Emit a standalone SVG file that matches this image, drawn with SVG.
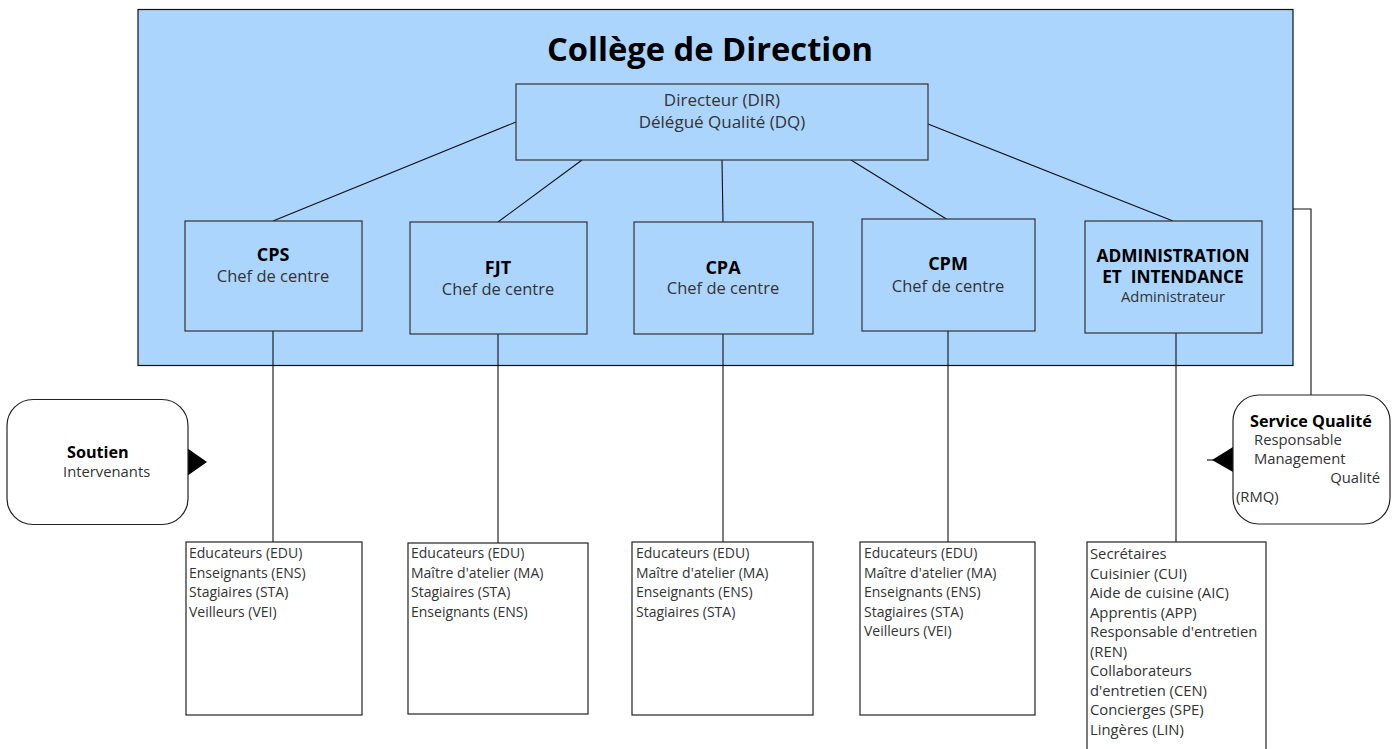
<svg xmlns="http://www.w3.org/2000/svg" width="1395" height="749" viewBox="0 0 1395 749">
<style>
.reg{font-family:"Open Sans","Noto Sans",sans-serif;font-size:14px;fill:#333}
.r16{font-size:16.5px}
.r17{font-size:17px}
.r15{font-size:14.8px}
.b{font-family:"Open Sans","Noto Sans",sans-serif;font-weight:bold;font-size:18px;fill:#000}
.b17{font-size:17.3px}
.b16{font-size:16.2px}
.box{fill:#acd5fd;stroke:#333;stroke-width:1.2}
.wbox{fill:#fff;stroke:#222;stroke-width:1.2}
.ln{stroke:#111;stroke-width:1.1;fill:none}
</style>
<rect width="1395" height="749" fill="#fff"/>
<g id="college">
<rect x="138" y="9.5" width="1155" height="356" fill="#acd5fd" stroke="#111" stroke-width="1.2"/>
<text x="710" y="61" text-anchor="middle" font-family="Open Sans, Noto Sans, sans-serif" font-weight="bold" font-size="32.7" fill="#000">Collège de Direction</text>
</g>
<g id="connectors">
<line class="ln" x1="516" y1="122" x2="273" y2="221"/>
<line class="ln" x1="582" y1="160" x2="498" y2="222"/>
<line class="ln" x1="722" y1="160" x2="723" y2="222"/>
<line class="ln" x1="851" y1="160" x2="948" y2="220"/>
<line class="ln" x1="928" y1="124" x2="1173" y2="221"/>
<line class="ln" x1="273" y1="331" x2="273" y2="542"/>
<line class="ln" x1="498" y1="334" x2="498" y2="543"/>
<line class="ln" x1="723" y1="334" x2="723" y2="542"/>
<line class="ln" x1="948" y1="331" x2="948" y2="542"/>
<line class="ln" x1="1176" y1="333" x2="1176" y2="542"/>
<polyline class="ln" points="1293,209 1311,209 1311,395"/>
<polygon points="187,448 207,462 187,476" fill="#000"/>
<polygon points="1233,447 1212,460 1233,472" fill="#000"/>
<line class="ln" x1="1207" y1="460" x2="1214" y2="460"/>
</g>
<g id="dir">
<rect class="box" x="516" y="84" width="412" height="76"/>
<text class="reg r17" x="722" y="106" text-anchor="middle">Directeur (DIR)</text>
<text class="reg r17" x="722" y="127.5" text-anchor="middle">Délégué Qualité (DQ)</text>
</g>
<g id="cps">
<rect class="box" x="185" y="221" width="177" height="110"/>
<text class="b" x="273" y="260.5" text-anchor="middle">CPS</text>
<text class="reg r16" x="273" y="282" text-anchor="middle">Chef de centre</text>
</g>
<g id="fjt">
<rect class="box" x="410" y="222" width="177" height="112"/>
<text class="b" x="498" y="273.5" text-anchor="middle">FJT</text>
<text class="reg r16" x="498" y="295" text-anchor="middle">Chef de centre</text>
</g>
<g id="cpa">
<rect class="box" x="634" y="222" width="179" height="112"/>
<text class="b" x="723" y="273.5" text-anchor="middle">CPA</text>
<text class="reg r16" x="723" y="294" text-anchor="middle">Chef de centre</text>
</g>
<g id="cpm">
<rect class="box" x="862" y="219" width="173" height="112"/>
<text class="b" x="948" y="269.5" text-anchor="middle">CPM</text>
<text class="reg r16" x="948" y="292" text-anchor="middle">Chef de centre</text>
</g>
<g id="admin">
<rect class="box" x="1085" y="221" width="177" height="112"/>
<text class="b b17" x="1173" y="261.5" text-anchor="middle">ADMINISTRATION</text>
<text class="b b17" x="1173" y="283" text-anchor="middle" xml:space="preserve">ET  INTENDANCE</text>
<text class="reg r15" x="1173" y="301.5" text-anchor="middle">Administrateur</text>
</g>
<g id="soutien">
<rect class="wbox" x="7" y="399.5" width="181" height="125" rx="26"/>
<text class="b b16" x="67" y="457.5">Soutien</text>
<text class="reg r15" x="63" y="477">Intervenants</text>
</g>
<g id="qualite">
<rect class="wbox" x="1233" y="395" width="157" height="129" rx="26"/>
<text class="b b16" x="1250" y="426.5">Service Qualité</text>
<text class="reg r15" x="1254" y="445">Responsable</text>
<text class="reg r15" x="1254" y="464">Management</text>
<text class="reg r15" x="1380" y="483" text-anchor="end">Qualité</text>
<text class="reg r15" x="1236" y="502">(RMQ)</text>
</g>
<g id="cps-staff">
<rect class="wbox" x="186" y="542" width="176" height="173"/>
<text class="reg" x="189" y="558">Educateurs (EDU)</text>
<text class="reg" x="189" y="577.5">Enseignants (ENS)</text>
<text class="reg" x="189" y="597">Stagiaires (STA)</text>
<text class="reg" x="189" y="616.5">Veilleurs (VEI)</text>
</g>
<g id="fjt-staff">
<rect class="wbox" x="408" y="543" width="180" height="171"/>
<text class="reg" x="411" y="558">Educateurs (EDU)</text>
<text class="reg" x="411" y="577.5">Maître d'atelier (MA)</text>
<text class="reg" x="411" y="597">Stagiaires (STA)</text>
<text class="reg" x="411" y="616.5">Enseignants (ENS)</text>
</g>
<g id="cpa-staff">
<rect class="wbox" x="632" y="542" width="181" height="173"/>
<text class="reg" x="636" y="558">Educateurs (EDU)</text>
<text class="reg" x="636" y="577.5">Maître d'atelier (MA)</text>
<text class="reg" x="636" y="597">Enseignants (ENS)</text>
<text class="reg" x="636" y="616.5">Stagiaires (STA)</text>
</g>
<g id="cpm-staff">
<rect class="wbox" x="860" y="542" width="175" height="173"/>
<text class="reg" x="864" y="558">Educateurs (EDU)</text>
<text class="reg" x="864" y="577.5">Maître d'atelier (MA)</text>
<text class="reg" x="864" y="597">Enseignants (ENS)</text>
<text class="reg" x="864" y="616.5">Stagiaires (STA)</text>
<text class="reg" x="864" y="636">Veilleurs (VEI)</text>
</g>
<g id="admin-staff">
<rect class="wbox" x="1087" y="542" width="179" height="210"/>
<text class="reg r15" x="1090" y="559">Secrétaires</text>
<text class="reg r15" x="1090" y="578.5">Cuisinier (CUI)</text>
<text class="reg r15" x="1090" y="598">Aide de cuisine (AIC)</text>
<text class="reg r15" x="1090" y="617.5">Apprentis (APP)</text>
<text class="reg r15" x="1090" y="637">Responsable d'entretien</text>
<text class="reg r15" x="1090" y="656.5">(REN)</text>
<text class="reg r15" x="1090" y="676">Collaborateurs</text>
<text class="reg r15" x="1090" y="695.5">d'entretien (CEN)</text>
<text class="reg r15" x="1090" y="715">Concierges (SPE)</text>
<text class="reg r15" x="1090" y="734.5">Lingères (LIN)</text>
</g>
</svg>
